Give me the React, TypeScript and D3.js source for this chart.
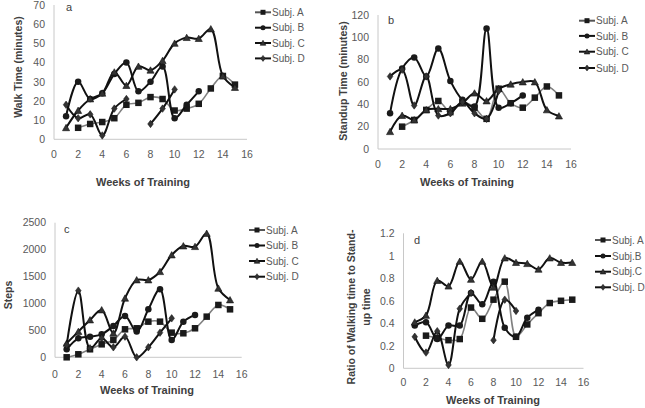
import React from "react";
import * as d3 from "d3";

const weeks = [1, 2, 3, 4, 5, 6, 7, 8, 9, 10, 11, 12, 13, 14, 15];
const subjLabels = ["Subj. A", "Subj. B", "Subj. C", "Subj. D"];
const subjLabelsD = ["Subj. A", "Subj.B", "Subj.C", "Subj. D"];

const walkA = [null, 6, 8, 9, 11, 18, 19, 22, 21, 15, 16, 18.5, 26.5, 33, 28.5];
const walkB = [12, 30, 21, 24, 34, 40, 25, 30, 38, 11, 18, 25];
const walkC = [6, 15, 21, 24, 35, 28, 38, 36, 41, 50, 53, 52.5, 57.5, 33, 27];
const walkD = [18, 11, 13, 2, 16, 21, null, 8, 16, 26];

const standA = [null, 20, 26, 35, 43, 33, 42, 37, 27, 54, 41, 37, 46, 56, 48];
const standB = [32, 72, 82, 65, 90, 61, 44, 38, 108, 37, 41, 48];
const standC = [15.5, 30, 26, 35, 36, 36, 41, 50, 43, 54, 58, 60, 60, 35, 29.5];
const standD = [65, 71, 39, 65, 30, 32, 42, 32, 27, 52];

const stepsA = [0, 56, 149, 241, 322, 520, 539, 662, 662, 458, 446, 539, 755, 972, 891];
const stepsB = [149, 353, 384, 427, 582, 768, 477, 891, 1263, 322, 662, 786];
const stepsC = [260, 477, 693, 879, 446, 1096, 1436, 1436, 1590, 1900, 2067, 2055, 2300, 1281, 1065];
const stepsD = [230, 1238, 167, 353, 186, 384, 0, 186, 458, 724];

const ratioA = [null, 0.29, 0.27, 0.25, 0.26, 0.54, 0.44, 0.61, 0.77, 0.28, 0.39, 0.49, 0.58, 0.6, 0.61];
const ratioB = [0.38, 0.41, 0.26, 0.38, 0.38, 0.67, 0.57, 0.77, 0.36, 0.28, 0.45, 0.52];
const ratioC = [0.41, 0.47, 0.78, 0.73, 0.95, 0.79, 0.95, 0.72, 0.98, 0.94, 0.93, 0.88, 0.98, 0.94, 0.94];
const ratioD = [0.28, 0.14, 0.33, 0.03, 0.53, 0.67, null, 0.25, 0.61, 0.51];

const xTicks = [0, 2, 4, 6, 8, 10, 12, 14, 16];
const walkTicks = [0, 10, 20, 30, 40, 50, 60, 70];
const standTicks = [0, 20, 40, 60, 80, 100, 120];
const stepsTicks = [0, 500, 1000, 1500, 2000, 2500];
const ratioTicks = [0, 0.2, 0.4, 0.6, 0.8, 1, 1.2];

const FONT = "'Liberation Sans', Arial, sans-serif";
const markerTypes = ["square", "circle", "triangle", "diamond"];
const lineColors = ["#808080", "#111", "#111", "#111"];

function Marker({ type, x, y, s }: { type: string; x: number; y: number; s: number }) {
  const fill = "#1a1a1a";
  if (type === "square") return <rect x={x - s / 2} y={y - s / 2} width={s} height={s} fill={fill} />;
  if (type === "circle") return <circle cx={x} cy={y} r={s / 2} fill={fill} />;
  if (type === "triangle") {
    const h = s * 0.9;
    return <path d={`M${x},${y - h / 2 - 0.5}L${x + s / 2 + 0.3},${y + h / 2}L${x - s / 2 - 0.3},${y + h / 2}Z`} fill="#333" stroke="#111" strokeWidth={0.6} />;
  }
  const r = s / 2 + 0.5;
  return <path d={`M${x},${y - r}L${x + r * 0.75},${y}L${x},${y + r}L${x - r * 0.75},${y}Z`} fill="#333" stroke="#111" strokeWidth={0.5} />;
}

type PanelProps = {
  x0: number; x16: number; yB: number; yT: number; yMax: number; yTicks: number[];
  fmt: (v: number) => string; series: (number | null)[][]; letter: string; letterPos: [number, number];
  legendX: number; legendYs: number[]; labels: string[]; xLabelY: number;
  xTitle: [number, number]; yTitle: { x: number; y: number; lines: string[] };
};

function Panel(p: PanelProps) {
  const x = d3.scaleLinear().domain([0, 16]).range([p.x0, p.x16]);
  const y = d3.scaleLinear().domain([0, p.yMax]).range([p.yB, p.yT]);
  const line = d3
    .line<number | null>()
    .defined((d) => d != null)
    .x((_, i) => x(weeks[i]))
    .y((d) => y(d as number))
    .curve(d3.curveCatmullRom.alpha(0.5));
  return (
    <g>
      <line x1={p.x0} x2={p.x0} y1={p.yT} y2={p.yB} stroke="#c8c8c8" strokeWidth={1} />
      <line x1={p.x0} x2={p.x16} y1={p.yB} y2={p.yB} stroke="#c8c8c8" strokeWidth={1} />
      {p.yTicks.map((t) => (
        <text key={t} x={p.x0 - 9} y={y(t)} dy="0.36em" textAnchor="end" fontSize={10.5} fill="#595959" fontFamily={FONT}>
          {p.fmt(t)}
        </text>
      ))}
      {xTicks.map((t) => (
        <text key={t} x={x(t)} y={p.xLabelY} textAnchor="middle" fontSize={10.5} fill="#595959" fontFamily={FONT}>
          {t}
        </text>
      ))}
      <text x={p.xTitle[0]} y={p.xTitle[1]} textAnchor="middle" fontSize={11} fontWeight="bold" fill="#404040" fontFamily={FONT}>
        Weeks of Training
      </text>
      <text transform={`translate(${p.yTitle.x},${p.yTitle.y}) rotate(-90)`} textAnchor="middle" fontSize={10.5} fontWeight="bold" fill="#404040" fontFamily={FONT}>
        {p.yTitle.lines.map((l, i) => (
          <tspan key={i} x={0} dy={i === 0 ? `${-(p.yTitle.lines.length - 1) * 0.7 + 0.35}em` : "1.4em"}>
            {l}
          </tspan>
        ))}
      </text>
      <text x={p.letterPos[0]} y={p.letterPos[1]} fontSize={11} fill="#404040" fontFamily={FONT}>
        {p.letter}
      </text>
      {p.series.map((s, si) => (
        <g key={si}>
          <path d={line(s) || ""} fill="none" stroke={lineColors[si]} strokeWidth={si === 0 ? 1.6 : 2} />
          {s.map((v, i) =>
            v == null ? null : <Marker key={i} type={markerTypes[si]} x={x(weeks[i])} y={y(v)} s={6.5} />
          )}
        </g>
      ))}
      {p.labels.map((l, i) => (
        <g key={l}>
          <line x1={p.legendX} x2={p.legendX + 16} y1={p.legendYs[i]} y2={p.legendYs[i]} stroke={i === 0 ? "#555" : "#111"} strokeWidth={2} />
          <Marker type={markerTypes[i]} x={p.legendX + 8} y={p.legendYs[i]} s={5} />
          <text x={p.legendX + 17} y={p.legendYs[i]} dy="0.36em" fontSize={10} fill="#595959" fontFamily={FONT}>
            {l}
          </text>
        </g>
      ))}
    </g>
  );
}

const intFmt = (v: number) => String(v);

export default function App() {
  return (
    <svg width={645} height={408} style={{ position: "absolute", left: 0, top: 0, background: "#fff" }}>
      <Panel x0={54} x16={247} yB={139.3} yT={5} yMax={70} yTicks={walkTicks} fmt={intFmt}
        series={[walkA, walkB, walkC, walkD]} letter="a" letterPos={[66, 11]}
        legendX={255} legendYs={[12.3, 27.7, 43, 58.4]} labels={subjLabels} xLabelY={157.5}
        xTitle={[143, 186]} yTitle={{ x: 18, y: 67, lines: ["Walk Time (minutes)"] }} />
      <Panel x0={378} x16={571} yB={149} yT={15} yMax={120} yTicks={standTicks} fmt={intFmt}
        series={[standA, standB, standC, standD]} letter="b" letterPos={[388, 24]}
        legendX={579} legendYs={[20.7, 35.9, 51.7, 68]} labels={subjLabels} xLabelY={167.5}
        xTitle={[467, 186]} yTitle={{ x: 343, y: 81, lines: ["Standup Time (minutes)"] }} />
      <Panel x0={55} x16={241.7} yB={357.3} yT={222.7} yMax={2500} yTicks={stepsTicks} fmt={intFmt}
        series={[stepsA, stepsB, stepsC, stepsD]} letter="c" letterPos={[64, 233]}
        legendX={249} legendYs={[230, 245.5, 261, 276.7]} labels={subjLabels} xLabelY={377.5}
        xTitle={[147, 394]} yTitle={{ x: 8, y: 295, lines: ["Steps"] }} />
      <Panel x0={403.5} x16={583.5} yB={368.3} yT={233.3} yMax={1.2} yTicks={ratioTicks} fmt={(v) => d3.format("~g")(v)}
        series={[ratioA, ratioB, ratioC, ratioD]} letter="d" letterPos={[414, 244]}
        legendX={595} legendYs={[240, 256, 271.7, 287.3]} labels={subjLabelsD} xLabelY={386}
        xTitle={[493, 404]} yTitle={{ x: 359, y: 307, lines: ["Ratio of Walking time to Stand-", "up time"] }} />
    </svg>
  );
}
